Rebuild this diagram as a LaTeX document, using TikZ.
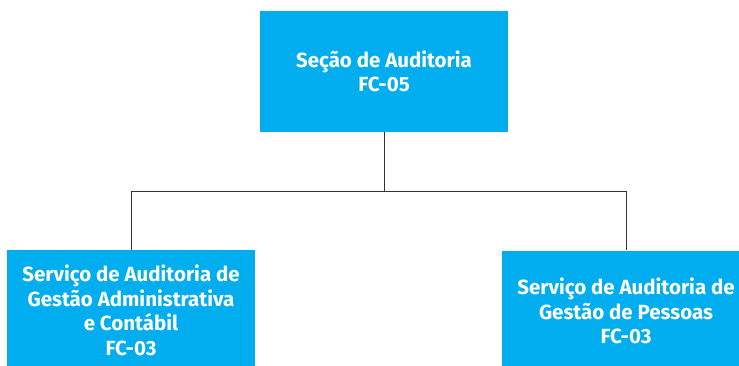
\documentclass[tikz,border=0pt]{standalone}
\usepackage{fontspec}
\setmainfont{Fira Sans}
\definecolor{boxcyan}{HTML}{00AEEF}
\definecolor{linegray}{HTML}{333333}
\begin{document}
\begin{tikzpicture}[x=1pt,y=-1pt,
  orgbox/.style={fill=boxcyan, draw=none, minimum width=248pt, minimum height=121pt,
    inner sep=0pt, text=white, align=center,
    font=\fontsize{20.5}{24.5}\selectfont\bfseries},
  link/.style={draw=linegray, line width=0.9pt}]
\useasboundingbox (0,0) rectangle (739,365);
\clip (0,0) rectangle (739,365);
\node[orgbox] (top) at (384,71.5) {Seção de Auditoria\\FC-05};
\node[orgbox] (left) at (131,310.5) {Serviço de Auditoria de\\Gestão Administrativa\\e Contábil\\FC-03};
\node[orgbox] (right) at (626,311) {Serviço de Auditoria de\\Gestão de Pessoas\\FC-03};
\coordinate (bus) at (384,191);
\draw[link] (top.south) -- (bus);
\draw[link] (bus) -| (left.north);
\draw[link] (bus) -| (right.north);
\end{tikzpicture}
\end{document}
